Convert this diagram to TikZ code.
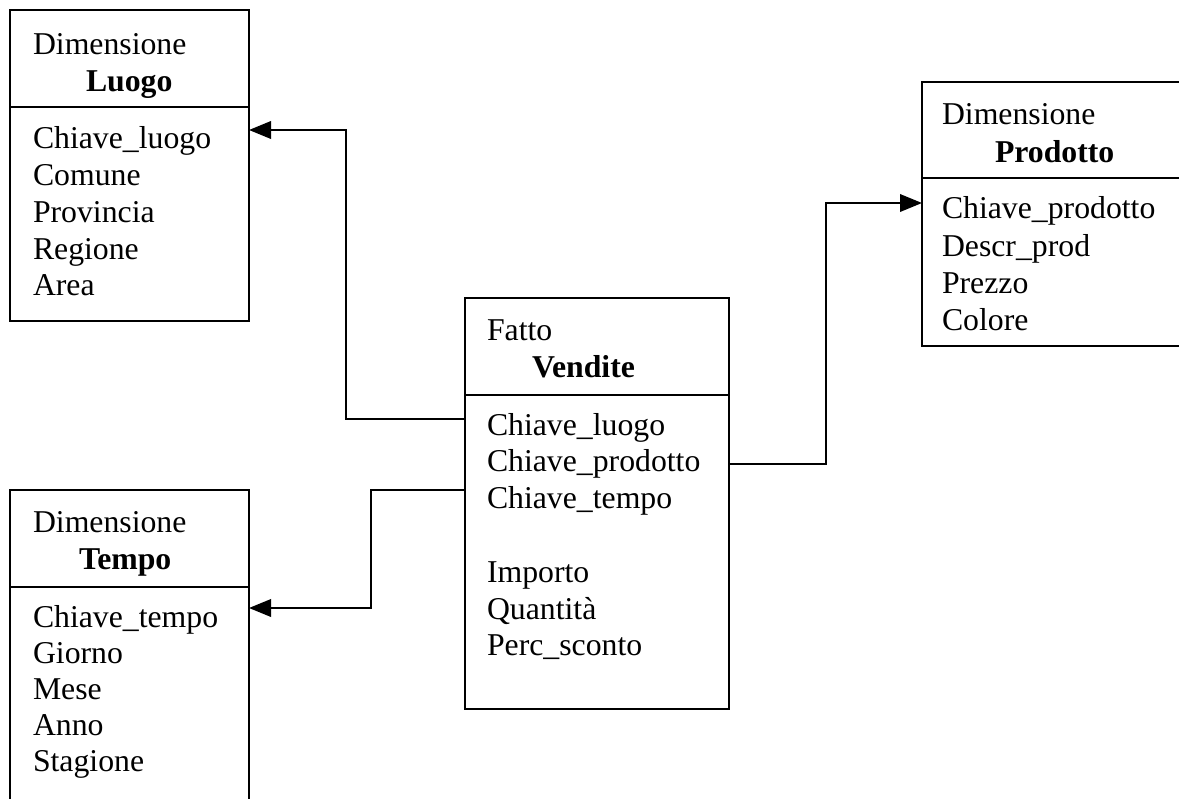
\documentclass[tikz,border=0pt]{standalone}
\usepackage{fontspec}
\setmainfont{Liberation Serif}
\usetikzlibrary{arrows.meta}
\begin{document}
\begin{tikzpicture}[x=0.4pt,y=-0.4pt,
  every node/.style={inner sep=0pt, outer sep=0pt},
  box/.style={draw, line width=0.8pt, anchor=north west},
  txt/.style={anchor=base west, font=\fontsize{12.7}{15}\selectfont},
  ttl/.style={anchor=base west, font=\fontsize{12.7}{15}\selectfont\bfseries},
  link/.style={line width=0.8pt, -{Triangle[length=8.8pt,width=7pt]}}]
\useasboundingbox (0,0) rectangle (1179,799);
\clip (0,0) rectangle (1179,799);

% Dimensione Luogo
\node[box, minimum width=95.6pt, minimum height=38.8pt] (lhead) at (10,10) {};
\node[box, minimum width=95.6pt, minimum height=85.6pt] (lbody) at (10,107) {};
\node[txt] (lcap) at (33,55) {Dimensione};
\node[ttl] (lname) at (86,92) {Luogo};
\foreach \t [count=\i] in {Chiave\_luogo, Comune, Provincia, Regione, Area}
  \node[txt] (lu-\i) at (33,{149+36.7*(\i-1)}) {\t};

% Dimensione Tempo (runs past the lower edge)
\node[box, minimum width=95.6pt, minimum height=38.8pt] (thead) at (10,490) {};
\node[box, minimum width=95.6pt, minimum height=97.2pt] (tbody) at (10,587) {};
\node[txt] (tcap) at (33,532) {Dimensione};
\node[ttl] (tname) at (79,569) {Tempo};
\foreach \t [count=\i] in {Chiave\_tempo, Giorno, Mese, Anno, Stagione}
  \node[txt] (te-\i) at (33,{627+36*(\i-1)}) {\t};

% Dimensione Prodotto (runs past the right edge)
\node[box, minimum width=111.2pt, minimum height=38.4pt] (phead) at (922,82) {};
\node[box, minimum width=111.2pt, minimum height=67.2pt] (pbody) at (922,178) {};
\node[txt] (pcap) at (942,124) {Dimensione};
\node[ttl] (pname) at (995,163) {Prodotto};
\foreach \t [count=\i] in {Chiave\_prodotto, Descr\_prod, Prezzo, Colore}
  \node[txt] (pr-\i) at (942,{219+37*(\i-1)}) {\t};

% Fatto Vendite
\node[box, minimum width=105.6pt, minimum height=38.8pt] (vhead) at (465,298) {};
\node[box, minimum width=105.6pt, minimum height=125.6pt] (vbody) at (465,395) {};
\node[txt] (vcap) at (487,340) {Fatto};
\node[ttl] (vname) at (532,377) {Vendite};
\foreach \t/\k [count=\i] in {Chiave\_luogo/0, Chiave\_prodotto/1, Chiave\_tempo/2,
    Importo/4, Quantità/5, Perc\_sconto/6}
  \node[txt] (ve-\i) at (487,{435+36.8*\k}) {\t};

% Foreign-key links
\draw[link] (vbody.west |- 0,419) -| (346,130) -- (lbody.east |- 0,130);
\draw[link] (vbody.west |- 0,490) -| (371,608) -- (tbody.east |- 0,608);
\draw[link] (vbody.east |- 0,464) -| (826,203) -- (pbody.west |- 0,203);
\end{tikzpicture}
\end{document}
